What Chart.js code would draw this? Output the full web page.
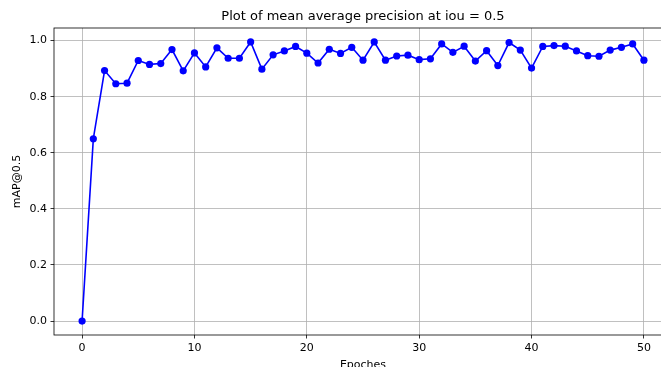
<!DOCTYPE html>
<html>
<head>
<meta charset="utf-8">
<script src="https://cdn.jsdelivr.net/npm/chart.js@4"></script>
<style>
html,body{margin:0;padding:0;background:#fff;overflow:hidden;}
#wrap{width:700px;height:380px;}
</style>
</head>
<body>
<div id="wrap"><canvas id="c" width="700" height="380"></canvas></div>
<script>
const epochs = [0,1,2,3,4,5,6,7,8,9,10,11,12,13,14,15,16,17,18,19,20,21,22,23,24,25,26,27,28,29,30,31,32,33,34,35,36,37,38,39,40,41,42,43,44,45,46,47,48,49,50];
const mapValues = [0.0,0.650,0.893,0.846,0.848,0.929,0.915,0.918,0.968,0.892,0.956,0.906,0.974,0.937,0.937,0.995,0.898,0.949,0.963,0.979,0.955,0.920,0.969,0.954,0.976,0.930,0.995,0.930,0.945,0.948,0.932,0.935,0.988,0.958,0.980,0.927,0.964,0.911,0.993,0.966,0.902,0.979,0.982,0.980,0.963,0.946,0.944,0.966,0.976,0.988,0.930];
const xTicks = [0,10,20,30,40,50];
const yTicks = [0.0,0.2,0.4,0.6,0.8,1.0];
const titleText = 'Plot of mean average precision at iou = 0.5';
const xLabel = 'Epoches';
const yLabel = 'mAP@0.5';

const FONT = 'DejaVu Sans';
const points = epochs.map((e,i)=>({x:e,y:mapValues[i]}));

const frame = {
  id:'frame',
  afterDatasetsDraw(chart){
    const a = chart.chartArea, ctx = chart.ctx;
    ctx.save();
    ctx.strokeStyle = '#000';
    ctx.lineWidth = 0.8;
    ctx.strokeRect(a.left, a.top, a.right - a.left, a.bottom - a.top);
    ctx.restore();
  }
};

new Chart(document.getElementById('c'), {
  type:'line',
  data:{datasets:[{
    data:points,
    xAxisID:'x', yAxisID:'y',
    borderColor:'#0000ff', backgroundColor:'#0000ff',
    borderWidth:1.6, tension:0,
    pointRadius:3.6, pointBorderWidth:0,
    pointBackgroundColor:'#0000ff', fill:false
  }]},
  options:{
    responsive:false, animation:false,
    layout:{padding:{left:0,right:28,top:0,bottom:0}},
    plugins:{legend:{display:false}, title:{display:false}, tooltip:{enabled:false}},
    scales:{
      x:{
        type:'linear', position:'bottom', min:-2.5, max:52.5,
        afterBuildTicks(s){ s.ticks = xTicks.map(v=>({value:v})); },
        afterFit(s){ s.height = 45; },
        grid:{color:'#b0b0b0', lineWidth:0.8, tickLength:3.5, tickColor:'#000', tickWidth:0.8, drawTicks:true},
        border:{display:false},
        ticks:{font:{family:FONT,size:11}, color:'#000', padding:3, maxRotation:0, autoSkip:false},
        title:{display:true, text:xLabel, font:{family:FONT,size:11}, color:'#000', padding:{top:0,bottom:8}}
      },
      x2:{
        type:'linear', position:'top', min:-2.5, max:52.5,
        afterFit(s){ s.height = 28; },
        grid:{display:false, drawOnChartArea:false, drawTicks:false},
        border:{display:false},
        ticks:{display:false},
        title:{display:true, text:titleText, font:{family:FONT,size:13}, color:'#000', padding:{top:9,bottom:0}}
      },
      y:{
        type:'linear', position:'left', min:-0.0498, max:1.0448,
        afterBuildTicks(s){ s.ticks = yTicks.map(v=>({value:v})); },
        afterFit(s){ s.width = 54; },
        grid:{color:'#b0b0b0', lineWidth:0.8, tickLength:3.5, tickColor:'#000', tickWidth:0.8},
        border:{display:false},
        ticks:{font:{family:FONT,size:11}, color:'#000', padding:3.5, callback:v=>Number(v).toFixed(1)},
        title:{display:true, text:yLabel, font:{family:FONT,size:11}, color:'#000', padding:{top:10.5,bottom:0}}
      }
    }
  },
  plugins:[frame]
});
</script>
</body>
</html>
